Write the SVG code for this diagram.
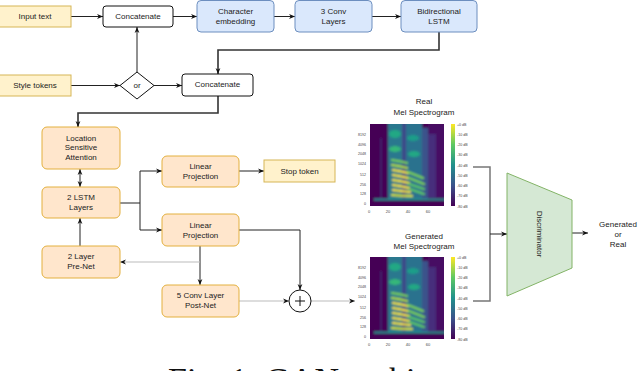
<svg xmlns="http://www.w3.org/2000/svg" xmlns:xlink="http://www.w3.org/1999/xlink" width="640" height="371" viewBox="0 0 640 371">
<style>
.t{font-family:"Liberation Sans",Arial,sans-serif;font-size:8px;fill:#222;text-anchor:middle;dominant-baseline:central}
.yel{fill:#fff2cc;stroke:#d6b656;stroke-width:1}
.blu{fill:#dae8fc;stroke:#6c8ebf;stroke-width:1}
.org{fill:#ffe6cc;stroke:#e3b03e;stroke-width:1}
.wht{fill:#fff;stroke:#111;stroke-width:1}
.grn{fill:#d5e8d4;stroke:#82b366;stroke-width:1}
.c{fill:none;stroke:#222;stroke-width:1}
.thick{fill:none;stroke:#333;stroke-width:1.6}
.lg{fill:none;stroke:#bbb;stroke-width:1}
.sg{fill:none;stroke:#777;stroke-width:1.5}
.tiny{font-family:"Liberation Sans",Arial,sans-serif;font-size:3.6px;fill:#444}
.ax{font-family:"Liberation Sans",Arial,sans-serif;font-size:4px;fill:#444;text-anchor:middle}
</style>
<defs>
<marker id="a" viewBox="0 0 10 10" refX="10" refY="5" markerWidth="6" markerHeight="6" markerUnits="userSpaceOnUse" orient="auto-start-reverse">
<path d="M0,1 L10,5 L0,9 L3,5 z" fill="#111"/>
</marker>
<linearGradient id="vir" x1="0" y1="0" x2="0" y2="1">
<stop offset="0" stop-color="#fde725"/>
<stop offset="0.25" stop-color="#5ec962"/>
<stop offset="0.5" stop-color="#21918c"/>
<stop offset="0.75" stop-color="#3b528b"/>
<stop offset="1" stop-color="#440154"/>
</linearGradient>
<filter id="soft" x="0" y="0" width="1" height="1">
<feGaussianBlur stdDeviation="0.9"/>
</filter>
<clipPath id="specclip"><rect x="0" y="0" width="74" height="82"/></clipPath>
<g id="spec">
<rect x="0" y="0" width="74" height="82" fill="#440154"/>
<g clip-path="url(#specclip)">
<g filter="url(#soft)">
<rect x="-2" y="-2" width="78" height="86" fill="#440154"/>
<rect x="58" y="0" width="18" height="74" fill="#471164"/>
<line x1="11" y1="14" x2="11" y2="76" stroke="#3b528b" stroke-width="0.8"/>
<rect x="18" y="-2" width="14" height="78" fill="#2a788e"/>
<rect x="32" y="-2" width="4" height="78" fill="#3e4a89"/>
<rect x="36" y="-2" width="16" height="78" fill="#2c728e"/>
<rect x="52" y="4" width="6" height="72" fill="#3b528b"/>
<rect x="58" y="10" width="8" height="64" fill="#472d7b"/>
<ellipse cx="25" cy="10" rx="6" ry="4" fill="#22a884"/>
<ellipse cx="43" cy="14" rx="6" ry="3" fill="#1f9e89"/>
<ellipse cx="25" cy="25" rx="6" ry="3" fill="#35b779"/>
<ellipse cx="44" cy="30" rx="6" ry="3" fill="#22a884"/>
<g stroke-width="2.2" fill="none" stroke-linecap="round">
<path d="M22,36 Q30,37 37,39" stroke="#7ad151"/>
<path d="M22,41 Q30,42 37,44" stroke="#b5de2b"/>
<path d="M23,46 Q30,47 38,49" stroke="#fde725"/>
<path d="M23,51 Q30,52 38,54" stroke="#fde725"/>
<path d="M23,56 Q31,57 39,59" stroke="#fde725"/>
<path d="M23,61 Q31,62 39,64" stroke="#fde725"/>
<path d="M23,66 Q31,67 40,68" stroke="#fde725"/>
<path d="M22,71 Q31,72 42,72" stroke="#d8e219"/>
<path d="M38,48 L53,54" stroke="#7ad151"/>
<path d="M39,54 L54,60" stroke="#7ad151"/>
<path d="M39,60 L54,65" stroke="#5ec962"/>
<path d="M40,65 L54,70" stroke="#5ec962"/>
</g>
<rect x="4" y="74.5" width="72" height="2" fill="#21918c"/>
</g>
</g>
<rect x="81" y="0" width="4" height="82" fill="url(#vir)"/>
<g class="tiny">
<text x="87" y="1.5">+0 dB</text>
<text x="87" y="11.7">-10 dB</text>
<text x="87" y="22">-20 dB</text>
<text x="87" y="32.2">-30 dB</text>
<text x="87" y="42.5">-40 dB</text>
<text x="87" y="52.7">-50 dB</text>
<text x="87" y="63">-60 dB</text>
<text x="87" y="73.2">-70 dB</text>
<text x="87" y="83.5">-80 dB</text>
</g>
<g class="tiny" text-anchor="end">
<text x="-4" y="12">8192</text>
<text x="-4" y="21.5">4096</text>
<text x="-4" y="31">2048</text>
<text x="-4" y="40.5">1024</text>
<text x="-4" y="52">512</text>
<text x="-4" y="61.5">256</text>
<text x="-4" y="71">128</text>
<text x="-4" y="81">0</text>
</g>
<g class="ax">
<text x="-1" y="89">0</text>
<text x="18" y="89">20</text>
<text x="38" y="89">40</text>
<text x="58" y="89">60</text>
</g>
</g>
</defs>

<g id="connectors">
<path class="c" d="M71,16.5 H103" marker-end="url(#a)"/>
<path class="c" d="M173,16.5 H197" marker-end="url(#a)"/>
<path class="c" d="M274,16.5 H295" marker-end="url(#a)"/>
<path class="c" d="M372,16.5 H401" marker-end="url(#a)"/>
<path class="thick" d="M439,32 V50 H218 V74" marker-end="url(#a)"/>
<path class="c" d="M71,85.5 H120" marker-end="url(#a)"/>
<path class="c" d="M137,72 V27" marker-end="url(#a)"/>
<path class="c" d="M154,85.5 H182" marker-end="url(#a)"/>
<path class="thick" d="M218,96 V113 H78 V127" marker-end="url(#a)"/>
<path class="c" d="M80,169 V187" marker-start="url(#a)" marker-end="url(#a)"/>
<path class="c" d="M120,203 H140"/>
<path class="c" d="M140,203 V171 H162" marker-end="url(#a)"/>
<path class="c" d="M140,203 V230 H162" marker-end="url(#a)"/>
<path class="c" d="M239,171 H264" marker-end="url(#a)"/>
<path class="c" d="M239,230 H300 V290" marker-end="url(#a)"/>
<path class="c" d="M200,246 V285" marker-end="url(#a)"/>
<path class="lg" d="M200,262 H120" marker-end="url(#a)"/>
<path class="c" d="M80,246 V218" marker-end="url(#a)"/>
<path class="lg" d="M239,301 H289" marker-end="url(#a)"/>
<path class="lg" d="M311,301 H355" marker-end="url(#a)"/>
<path class="sg" d="M473,167 H490 V301 H473"/>
<path class="c" d="M490,234 H507" marker-end="url(#a)"/>
<path class="c" d="M572,233 H588" marker-end="url(#a)"/>
</g>

<g id="input-text">
<rect class="yel" x="-2" y="6" width="73" height="21"/>
<text class="t" x="35" y="16.5">Input text</text>
</g>
<g id="concatenate-1">
<rect class="wht" x="103" y="6" width="70" height="21" rx="3"/>
<text class="t" x="138" y="16.5">Concatenate</text>
</g>
<g id="character-embedding">
<rect class="blu" x="197" y="0.5" width="77" height="31.5" rx="4"/>
<text class="t" x="235.5" y="11">Character</text>
<text class="t" x="235.5" y="21.5">embedding</text>
</g>
<g id="conv-layers">
<rect class="blu" x="295" y="0.5" width="77" height="31.5" rx="4"/>
<text class="t" x="333.5" y="11">3 Conv</text>
<text class="t" x="333.5" y="21.5">Layers</text>
</g>
<g id="bidirectional-lstm">
<rect class="blu" x="401" y="0.5" width="76" height="31.5" rx="4"/>
<text class="t" x="439" y="11">Bidirectional</text>
<text class="t" x="439" y="21.5">LSTM</text>
</g>
<g id="style-tokens">
<rect class="yel" x="-2" y="75" width="73" height="21"/>
<text class="t" x="35" y="85.5">Style tokens</text>
</g>
<g id="or">
<polygon class="wht" points="137,72 154,85.5 137,99 120,85.5"/>
<text class="t" x="137" y="85.5">or</text>
</g>
<g id="concatenate-2">
<rect class="wht" x="182" y="74" width="71" height="22" rx="3"/>
<text class="t" x="217.5" y="84.5">Concatenate</text>
</g>
<g id="location-sensitive-attention">
<rect class="org" x="42" y="127" width="78" height="42" rx="5"/>
<text class="t" x="81" y="138">Location</text>
<text class="t" x="81" y="147.5">Sensitive</text>
<text class="t" x="81" y="157">Attention</text>
</g>
<g id="lstm-layers">
<rect class="org" x="42" y="187" width="78" height="31" rx="5"/>
<text class="t" x="81" y="197.5">2 LSTM</text>
<text class="t" x="81" y="207.5">Layers</text>
</g>
<g id="linear-projection-1">
<rect class="org" x="162" y="156" width="77" height="31" rx="5"/>
<text class="t" x="200.5" y="166">Linear</text>
<text class="t" x="200.5" y="176">Projection</text>
</g>
<g id="stop-token">
<rect class="yel" x="264" y="160" width="71" height="22"/>
<text class="t" x="299.5" y="171">Stop token</text>
</g>
<g id="linear-projection-2">
<rect class="org" x="162" y="214" width="77" height="32" rx="5"/>
<text class="t" x="200.5" y="225">Linear</text>
<text class="t" x="200.5" y="235">Projection</text>
</g>
<g id="pre-net">
<rect class="org" x="42" y="246" width="78" height="32" rx="5"/>
<text class="t" x="81" y="256.5">2 Layer</text>
<text class="t" x="81" y="266.5">Pre-Net</text>
</g>
<g id="post-net">
<rect class="org" x="162" y="285" width="77" height="32" rx="5"/>
<text class="t" x="200.5" y="295.5">5 Conv Layer</text>
<text class="t" x="200.5" y="305.5">Post-Net</text>
</g>
<g id="sum">
<circle cx="300" cy="301" r="11" fill="#fff" stroke="#111" stroke-width="1"/>
<path d="M295,301 H305 M300,296 V306" stroke="#111" stroke-width="1"/>
</g>
<g id="real-mel-spectrogram">
<text class="t" x="424" y="101">Real</text>
<text class="t" x="424" y="112">Mel Spectrogram</text>
<use xlink:href="#spec" href="#spec" x="370" y="124"/>
</g>
<g id="generated-mel-spectrogram">
<text class="t" x="424" y="236">Generated</text>
<text class="t" x="424" y="246">Mel Spectrogram</text>
<use xlink:href="#spec" href="#spec" x="370" y="257"/>
</g>
<g id="discriminator">
<polygon class="grn" points="507,173 572,200 572,268 507,296"/>
<text class="t" transform="translate(539,234) rotate(90)">Discriminator</text>
</g>
<g id="output">
<text class="t" x="618" y="224">Generated</text>
<text class="t" x="618" y="234">or</text>
<text class="t" x="618" y="244">Real</text>
</g>
<text x="168" y="391" font-family="'Liberation Serif','Times New Roman',serif" font-size="34" fill="#111">Fig. 1: GAN architecture</text>
</svg>
